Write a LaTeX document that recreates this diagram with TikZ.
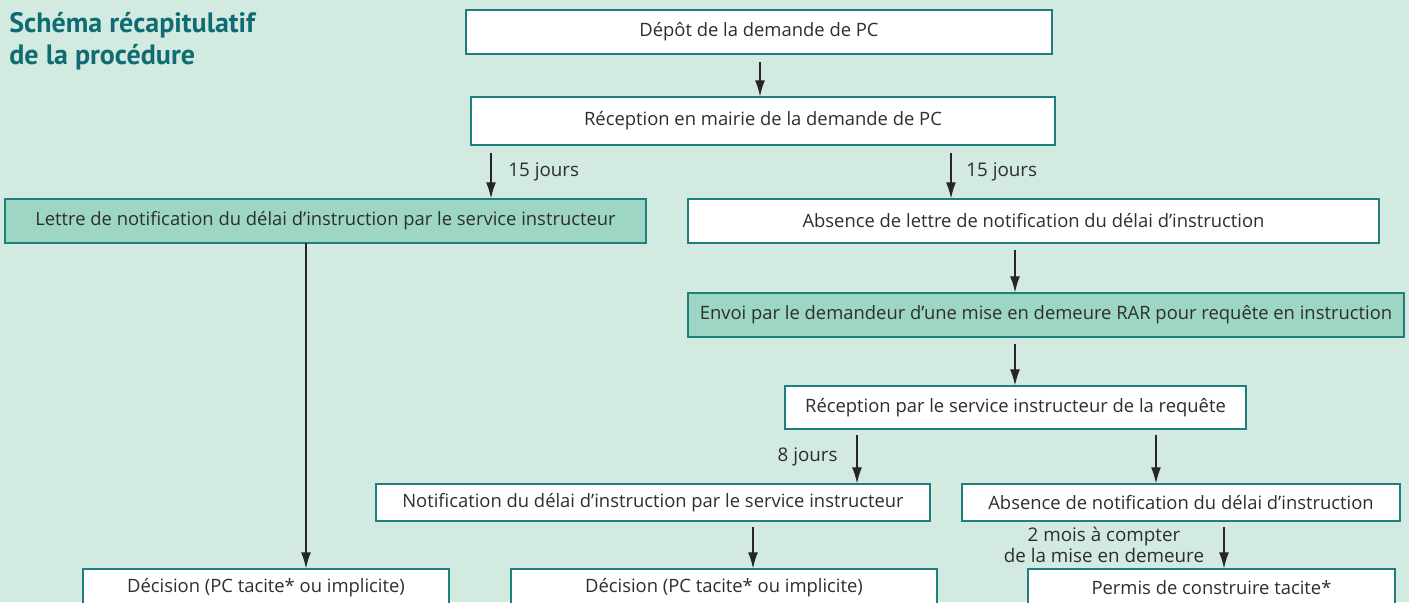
\documentclass[tikz,border=0pt]{standalone}
\usepackage{fontspec}
\setmainfont{Open Sans}
\newfontfamily\titlefont{PT Sans}
\usetikzlibrary{arrows.meta,calc}
\definecolor{bg}{HTML}{D3EAE0}
\definecolor{boxgreen}{HTML}{9DD6C5}
\definecolor{edge}{HTML}{1F7F7F}
\definecolor{titlecol}{HTML}{0E6C72}
\definecolor{txt}{HTML}{2E2E2E}
\tikzset{
  x=0.5pt, y=-0.5pt,
  box/.style={draw=edge, line width=0.75pt, fill=white, inner sep=0pt, text=txt, font=\fontsize{9.2}{10}\selectfont},
  gbox/.style={box, fill=boxgreen},
  arr/.style={-{Latex[length=8pt,width=5pt]}, line width=0.6pt, draw=black!85},
  lbl/.style={text=txt, font=\fontsize{9.4}{8.6}\selectfont, inner sep=0pt},
}
\newcommand{\bx}[7]{% style, name, l, r, t, b, text
  \node[#1, minimum width={(#4-#3)*0.5pt}, minimum height={(#6-#5)*0.5pt}] (#2) at ({(#3+#4)/2},{(#5+#6)/2}) {#7};}
\begin{document}
\begin{tikzpicture}
\fill[bg] (0,0) rectangle (1409,602);
\useasboundingbox (0,0) rectangle (1409,602);
\clip (0,0) rectangle (1409,602);
\node[anchor=north west, align=left, inner sep=0pt, text=titlecol, font=\titlefont\bfseries\fontsize{14}{16}\selectfont] (title) at (9,12) {Schéma récapitulatif\\de la procédure};
\bx{box}{n1}{466}{1052}{10}{54}{Dépôt de la demande de PC}
\bx{box}{n2}{471}{1055}{97}{145}{Réception en mairie de la demande de PC}
\bx{gbox}{n3}{5}{646}{199}{243}{Lettre de notification du délai d’instruction par le service instructeur}
\bx{box}{n4}{688}{1379}{199}{243}{Absence de lettre de notification du délai d’instruction}
\bx{gbox}{n5}{688}{1404}{293}{337}{Envoi par le demandeur d’une mise en demeure RAR pour requête en instruction}
\bx{box}{n6}{785}{1246}{386}{429}{Réception par le service instructeur de la requête}
\bx{box}{n7}{376}{930}{484}{521}{Notification du délai d’instruction par le service instructeur}
\bx{box}{n8}{962}{1400}{484}{521}{Absence de notification du délai d’instruction}
\bx{box}{n9}{83}{449}{569}{607}{Décision (PC tacite* ou implicite)}
\bx{box}{n10}{511}{937}{569}{607}{Décision (PC tacite* ou implicite)}
\bx{box}{n11}{1028}{1395}{569}{607}{Permis de construire tacite*}
\coordinate (s1) at (760,62);
\coordinate (s2) at (491,153);
\coordinate (s3) at (951,153);
\coordinate (s4) at (1015,250);
\coordinate (s5) at (1015,344);
\coordinate (s6) at (857,435);
\coordinate (s7) at (1156,435);
\coordinate (s8) at (306,243);
\coordinate (s9) at (753,527);
\coordinate (s10) at (1224,527);
\draw[arr] (s1) -- (s1 |- n2.north);
\draw[arr] (s2) -- (s2 |- n3.north);
\draw[arr] (s3) -- (s3 |- n4.north);
\draw[arr] (s4) -- (s4 |- n5.north);
\draw[arr] (s5) -- (s5 |- n6.north);
\draw[arr] (s6) -- (s6 |- n7.north);
\draw[arr] (s7) -- (s7 |- n8.north);
\draw[arr] (s8) -- (s8 |- n9.north);
\draw[arr] (s9) -- (s9 |- n10.north);
\draw[arr] (s10) -- (s10 |- n11.north);
\node[lbl, anchor=west] (l1) at (508,172) {15 jours};
\node[lbl, anchor=west] (l2) at (966,172) {15 jours};
\node[lbl, anchor=east] (l3) at (838,457) {8 jours};
\node[lbl, align=center] (l4) at (1104,545) {2 mois à compter\\de la mise en demeure};
\end{tikzpicture}
\end{document}
